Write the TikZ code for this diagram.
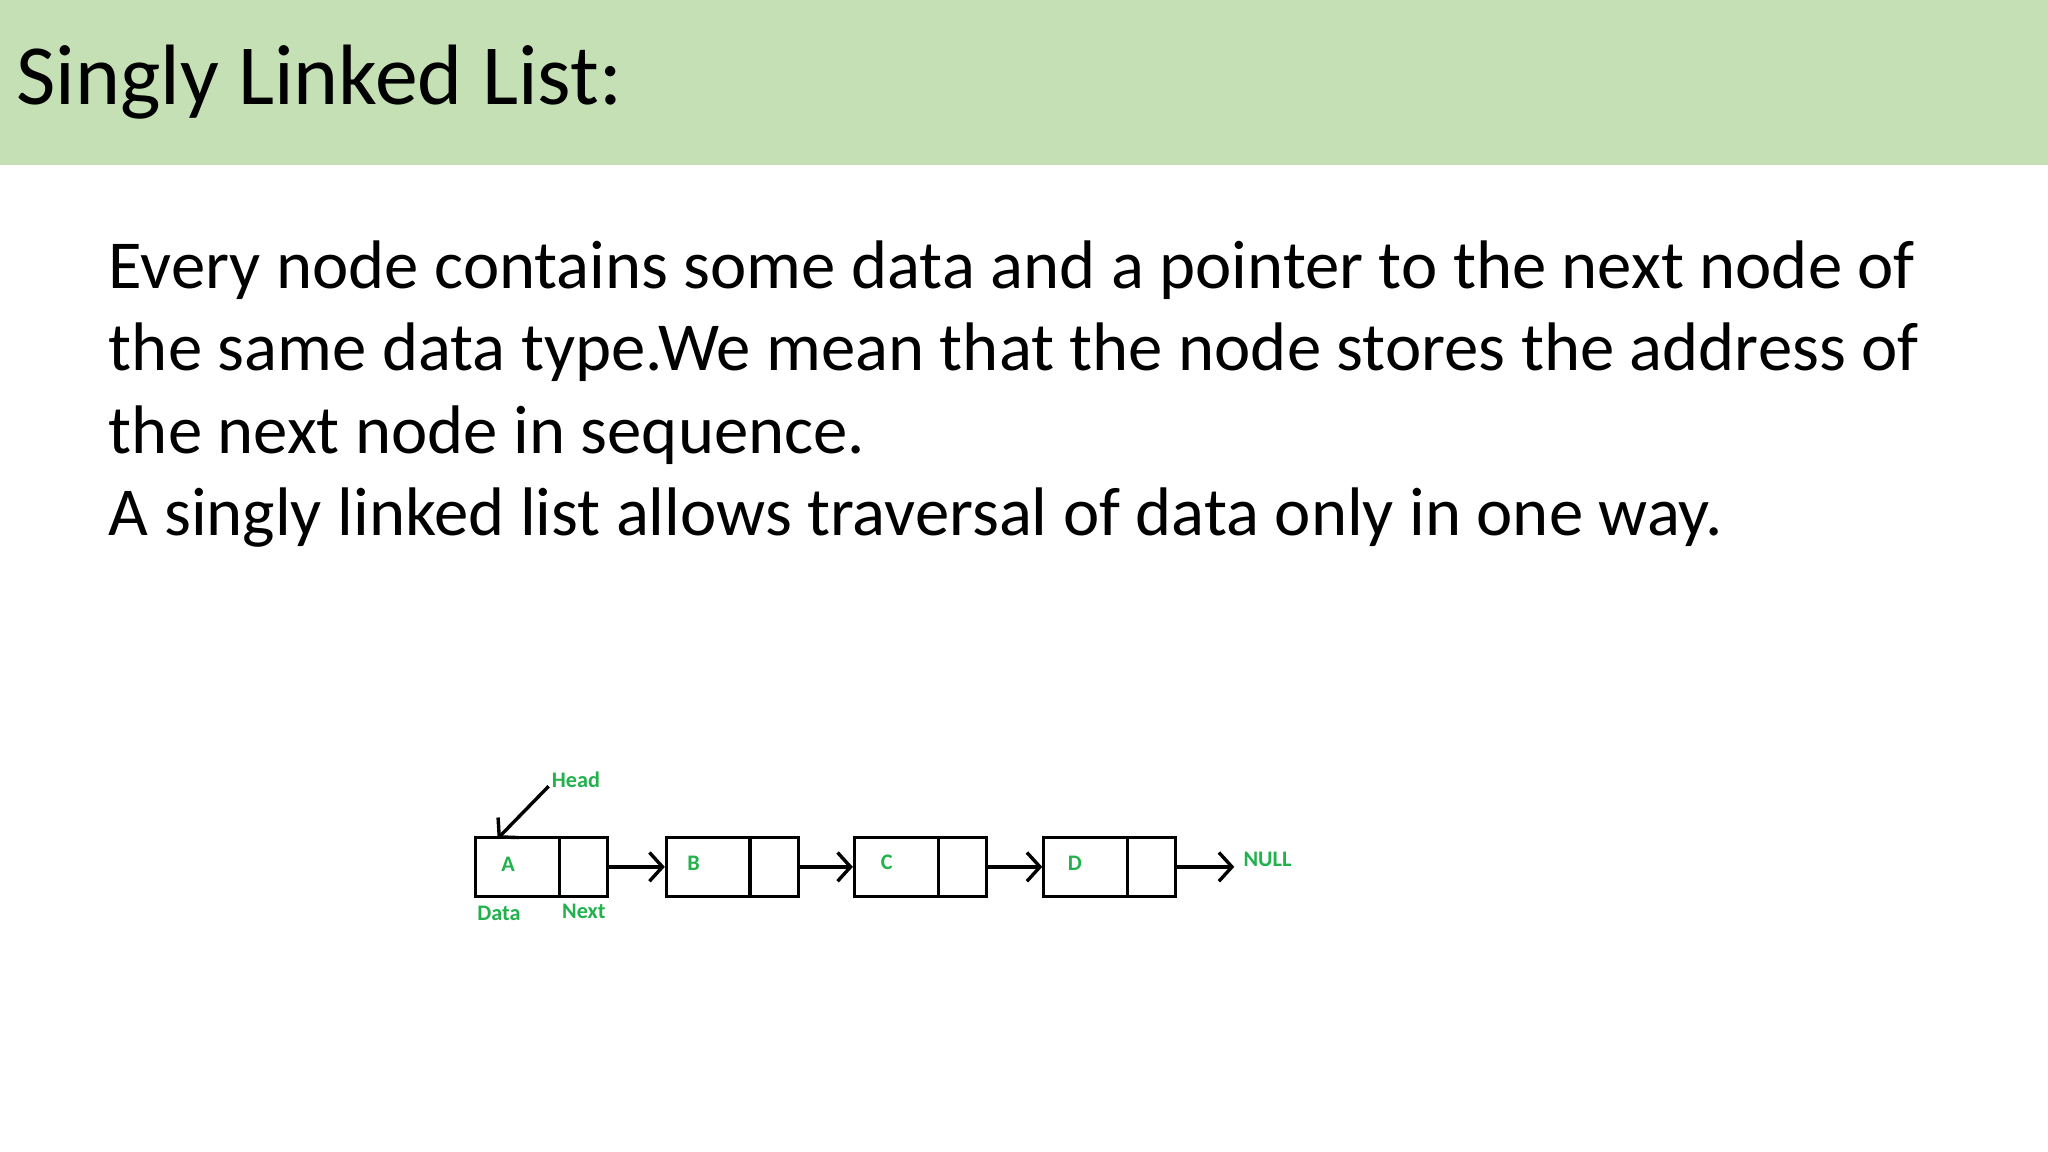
\documentclass[tikz,border=0pt]{standalone}
\usepackage{fontspec}
\setmainfont{Carlito}
\usetikzlibrary{arrows.meta}
\definecolor{band}{RGB}{197,224,180}
\definecolor{lgreen}{RGB}{34,177,76}
\tikzset{
  cell/.style={draw,line width=1.2pt,minimum height=22.5pt,inner sep=0pt,anchor=north west},
  lbl/.style={text=lgreen,font=\fontsize{8.5}{10}\selectfont\bfseries},
  link/.style={line width=1.3pt,-{Straight Barb[length=5pt,width=11pt,line width=1.3pt]}}
}
\begin{document}
\begin{tikzpicture}[x=0.5pt,y=-0.5pt]
\useasboundingbox (0,0) rectangle (1568,882);
\fill[band] (0,0) rectangle (1568,126);
\node[anchor=base west,inner sep=0pt,font=\fontsize{32.8}{38}\selectfont] (title) at (12,80) {Singly Linked List:};
\node[anchor=base west,inner sep=0pt,font=\fontsize{26.3}{31.5}\selectfont,align=left] (body) at (83,410)
{Every node contains some data and a pointer to the next node of\\
the same data type.We mean that the node stores the address of\\
the next node in sequence.\\
A singly linked list allows traversal of data only in one way.};
% nodes
\foreach \n/\x in {A/363,B/509,C/653,D/798}{
  \node[cell,minimum width=32pt] (\n d) at (\x,640) {};
  \node[cell,minimum width=18.5pt] (\n n) at (\x+64,640) {};
}
\node[lbl] (tA) at (389,662) {A};
\node[lbl] (tB) at (531,661) {B};
\node[lbl] (tC) at (679,660) {C};
\node[lbl] (tD) at (823,661) {D};
\node[lbl,anchor=west] (null) at (945,658) {NULL};
\node[lbl] (head) at (441,597) {Head};
\node[lbl] (data) at (382,699) {Data};
\node[lbl] (next) at (447,698) {Next};
\draw[link] (An.east) -- (Bd.west);
\draw[link] (Bn.east) -- (Cd.west);
\draw[link] (Cn.east) -- (Dd.west);
\draw[link] (Dn.east) -- (Dn.east -| null.west);
\coordinate (hs) at (420,602);
\draw[link] (hs) -- ([xshift=9pt,yshift=-1pt]Ad.north west);
\end{tikzpicture}
\end{document}
